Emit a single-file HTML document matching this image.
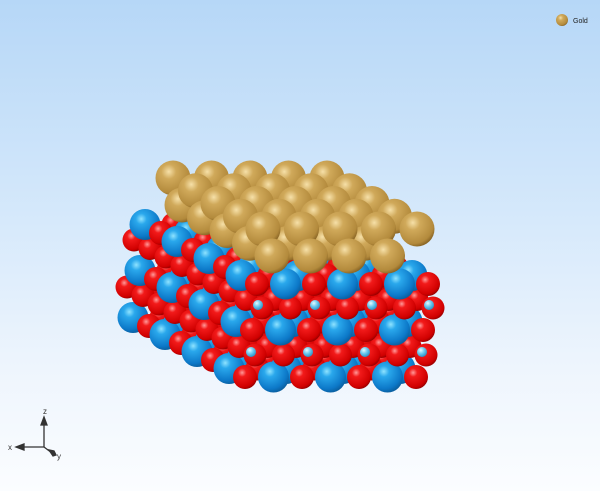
<!DOCTYPE html>
<html><head><meta charset="utf-8"><style>
html,body{margin:0;padding:0;}
body{width:600px;height:491px;overflow:hidden;background:linear-gradient(#b6d7f7 0%,#d6e9fb 45%,#eef5fd 75%,#fbfdff 100%);font-family:"Liberation Sans",sans-serif;}
svg{display:block;}
</style></head><body>
<svg id="scene" width="600" height="491" xmlns="http://www.w3.org/2000/svg">
<defs>
<radialGradient id="gBlue" cx="0.38" cy="0.32" r="0.7"><stop offset="0" stop-color="#8fe3ff"/><stop offset="0.25" stop-color="#2aa8ec"/><stop offset="0.8" stop-color="#0c78c8"/><stop offset="1" stop-color="#0a5fa0"/></radialGradient>
<radialGradient id="gRed" cx="0.38" cy="0.32" r="0.7"><stop offset="0" stop-color="#ff9a9a"/><stop offset="0.25" stop-color="#f21a1a"/><stop offset="0.85" stop-color="#d00000"/><stop offset="1" stop-color="#9a0000"/></radialGradient>
<radialGradient id="gGold" cx="0.38" cy="0.32" r="0.7"><stop offset="0" stop-color="#f6e0a8"/><stop offset="0.3" stop-color="#d0a95a"/><stop offset="0.85" stop-color="#b38a3c"/><stop offset="1" stop-color="#8a6626"/></radialGradient>
<radialGradient id="gH" cx="0.38" cy="0.32" r="0.7"><stop offset="0" stop-color="#e6fbff"/><stop offset="0.5" stop-color="#6cc9ee"/><stop offset="1" stop-color="#2a90c4"/></radialGradient>
</defs>
<g id="atoms"></g>
<g>
<circle cx="562" cy="20" r="6" fill="url(#gGold)"/>
<text x="573" y="23" font-size="7" fill="#222">Gold</text>
</g>
<g stroke="#333" stroke-width="1.3" fill="#333">
<line x1="44" y1="447" x2="44" y2="423"/><polygon points="41,425 47,425 44,417"/>
<line x1="44" y1="447" x2="22" y2="447"/><polygon points="24,444 24,450 16,447"/>
<line x1="44" y1="447" x2="52" y2="453"/><polygon points="49,450 53,456 56,455 54,451"/>
<text x="43" y="414" font-size="8" stroke="none">z</text>
<text x="8" y="450" font-size="8" stroke="none">x</text>
<text x="57" y="459" font-size="8" stroke="none">y</text>
</g>
</svg>
<script>
const oxideLayersY = [377, 330, 284];
const oxideLayersX = [245, 252, 257];
const oxideCols = 7;
const oxideRows = 8;
const subRows = 9;
const goldUpper = {x:263, y:229, cols:5, rows:5};
const goldLower = {x:272, y:256, cols:4, rows:5};

const svgNS = 'http://www.w3.org/2000/svg';
const DX = -16, DY = -8.5;
const atoms = [];
oxideLayersY.forEach((y0, L) => {
  const x0 = oxideLayersX[L];
  for (let r = 0; r < oxideRows; r++) {
    for (let c = 0; c < oxideCols; c++) {
      const blue = (c + r) % 2 === 1;
      atoms.push({x: x0 + c * 28.5 + r * DX, y: y0 + r * DY, r: blue ? 15.5 : 12, f: blue ? 'gBlue' : 'gRed', k: blue ? 'oxide-metal-atom' : 'oxygen-atom', d: L * 100 - r * 10 + (blue ? 0.5 : 0)});
    }
  }
  if (L < 2) {
    for (let r = 0; r < subRows; r++) {
      for (let c = 0; c < oxideCols; c++) {
        atoms.push({x: x0 + 10 + c * 28.5 + r * DX, y: y0 - 22 + r * DY, r: 11.5, f: 'gRed', k: 'oxygen-atom', d: L * 100 + 50 - r * 10});
      }
    }
    for (let c = 0; c < 4; c++) {
      atoms.push({x: x0 + 6 + c * 57, y: y0 - 25, r: 5, f: 'gH', k: 'hydrogen-atom', d: L * 100 + 55});
    }
  }
});
atoms.sort((a, b) => a.d - b.d);
const gold = [];
[goldLower, goldUpper].forEach((g, L) => {
  for (let r = g.rows - 1; r >= 0; r--) {
    for (let c = 0; c < g.cols; c++) {
      gold.push({x: g.x + c * 38.5 - r * 22.5, y: g.y - r * 12.75, r: 17.5, f: 'gGold', k: 'gold-atom', z: L});
    }
  }
});
gold.sort((a, b) => (a.y + (a.z ? 0 : -25)) - (b.y + (b.z ? 0 : -25)));
const host = document.getElementById('atoms');
atoms.concat(gold).forEach(a => {
  const c = document.createElementNS(svgNS, 'circle');
  c.setAttribute('cx', a.x); c.setAttribute('cy', a.y); c.setAttribute('r', a.r);
  c.setAttribute('fill', 'url(#' + a.f + ')');
  
  
  host.appendChild(c);
});
</script>
</body></html>
